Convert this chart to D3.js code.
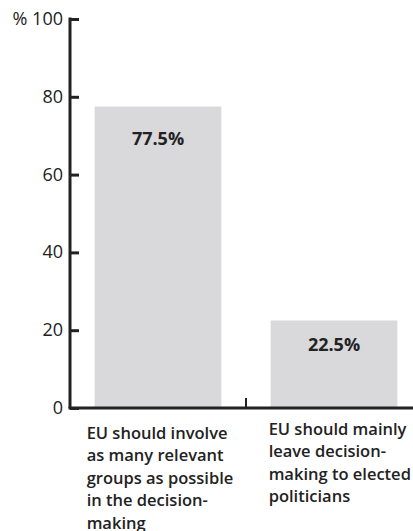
<!DOCTYPE html>
<html><head><meta charset="utf-8">
<script src="https://cdn.jsdelivr.net/npm/d3@7"></script>
<style>body{margin:0;background:#fff}svg{display:block}</style>
</head><body>
<script>
const categories = ["involve", "elected"];
const categoryLabels = [
  ["EU should involve", "as many relevant", "groups as possible", "in the decision-", "making"],
  ["EU should mainly", "leave decision-", "making to elected", "politicians"]
];
const values = [77.5, 22.5];
const valueLabels = ["77.5%", "22.5%"];
const yTicks = [0, 20, 40, 60, 80, 100];
const yTickLabels = ["0", "20", "40", "60", "80", "% 100"];

const W = 413, H = 531;
const svg = d3.select("body").append("svg").attr("width", W).attr("height", H);
const font = "'Open Sans', 'Liberation Sans', Arial, sans-serif";
const ink = "#222";

const y = d3.scaleLinear().domain([0, 100]).range([408, 19]);
const x = d3.scaleBand().domain(categories).range([70, 422]).paddingInner(0.28).paddingOuter(0.14);

// bars
svg.selectAll("rect.bar").data(values).enter().append("rect")
  .attr("x", (d, i) => x(categories[i]))
  .attr("y", d => y(d))
  .attr("width", x.bandwidth())
  .attr("height", d => y(0) - y(d))
  .attr("fill", "#d9d9db");

// value labels
svg.selectAll("text.val").data(values).enter().append("text")
  .attr("x", (d, i) => x(categories[i]) + x.bandwidth() / 2)
  .attr("y", (d, i) => y(d) + (i === 0 ? 38 : 31))
  .attr("text-anchor", "middle")
  .attr("font-family", font).attr("font-weight", "bold").attr("font-size", 18)
  .attr("fill", ink)
  .text((d, i) => valueLabels[i]);

// y axis
const yAxis = d3.axisRight(y).tickValues(yTicks).tickSize(9).tickFormat("");
const gy = svg.append("g").attr("transform", "translate(70,0)").call(yAxis);
gy.select(".domain").attr("stroke", ink).attr("stroke-width", 3).attr("d", `M0,${y(100) - 1.5}V${y(0)}`);
gy.selectAll(".tick line").attr("stroke", ink).attr("stroke-width", 3);
svg.selectAll("text.ytl").data(yTicks).enter().append("text")
  .attr("x", 63).attr("y", d => y(d) + 6)
  .attr("text-anchor", "end")
  .attr("font-family", font).attr("font-size", 18).attr("fill", ink)
  .text((d, i) => yTickLabels[i]);

// x axis
svg.append("line").attr("x1", 68.5).attr("x2", W).attr("y1", y(0)).attr("y2", y(0))
  .attr("stroke", ink).attr("stroke-width", 3);
const mid = (x(categories[0]) + x.bandwidth() + x(categories[1])) / 2;
svg.append("line").attr("x1", mid).attr("x2", mid).attr("y1", y(0)).attr("y2", y(0) - 10)
  .attr("stroke", ink).attr("stroke-width", 2);

// category labels
categories.forEach((c, i) => {
  const t = svg.append("text")
    .attr("font-family", font).attr("font-weight", 600).attr("font-size", 16.5)
    .attr("fill", ink);
  categoryLabels[i].forEach((line, j) => {
    t.append("tspan").attr("x", x(c) - (i === 0 ? 8 : 2)).attr("y", (i === 0 ? 439 : 435) + j * 22.4).text(line);
  });
});
</script>
</body></html>
